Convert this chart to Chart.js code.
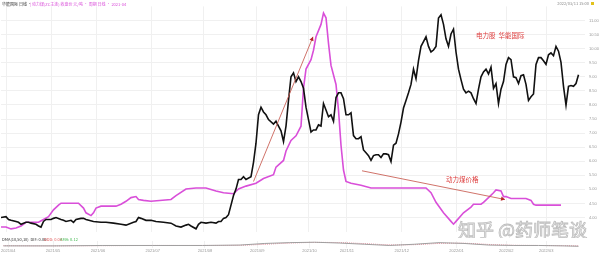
<!DOCTYPE html>
<html>
<head>
<meta charset="utf-8">
<script src="https://cdn.jsdelivr.net/npm/chart.js@4.4.1/dist/chart.umd.min.js"></script>
<style>
  body { margin: 0; background: #fff; width: 600px; height: 254px; overflow: hidden; position: relative; }
  #main { position: absolute; left: 0; top: 0; }
  #sub { position: absolute; left: 0; top: 237px; }
</style>
</head>
<body>
<canvas id="main" width="600" height="238"></canvas>
<canvas id="sub" width="600" height="17"></canvas>
<script>
// trading day index, close price (华能国际)
const stockPoints = [
  [0,4.00],[2,4.03],[3,3.93],[4,3.90],[6,3.86],[7,3.83],[8,3.76],[10,3.83],[11,3.83],[12,3.80],
  [14,3.76],[15,3.70],[16,3.66],[17,3.86],[18,3.93],[20,3.93],[21,3.97],[22,4.00],[24,3.93],[25,3.90],
  [26,3.86],[28,3.90],[29,3.83],[30,3.93],[32,3.97],[33,3.97],[34,3.93],[37,3.86],[40,3.83],[42,3.83],
  [45,3.80],[48,3.76],[50,3.73],[52,3.80],[53,3.83],[54,3.86],[55,4.00],[56,3.97],[58,3.90],[60,3.90],
  [62,3.86],[65,3.83],[68,3.80],[70,3.70],[72,3.66],[74,3.73],[75,3.76],[76,3.70],[78,3.60],[79,3.76],
  [80,3.83],[82,3.80],[84,3.83],[86,3.80],[87,3.86],[88,3.86],[89,3.97],[90,4.00],[91,4.10],[92,4.44],
  [93,4.78],[94,5.01],[95,5.35],[96,5.35],[97,5.45],[98,5.35],[100,5.45],[101,5.96],[102,6.64],[103,7.65],
  [104,7.92],[105,7.75],[106,7.65],[107,7.48],[109,7.32],[110,7.42],[111,7.25],[112,7.08],[113,6.70],[114,7.25],
  [115,8.16],[116,9.00],[117,9.14],[118,8.83],[119,9.00],[120,8.83],[121,8.59],[122,7.92],[123,7.48],[124,7.04],
  [125,7.11],[126,7.11],[127,7.29],[128,7.25],[129,8.05],[130,7.82],[131,7.58],[132,7.65],[133,7.42],[134,8.26],
  [135,8.43],[136,8.43],[137,8.22],[138,7.65],[139,7.65],[140,7.72],[141,6.91],[142,6.80],[143,6.80],[144,6.87],
  [145,6.40],[146,6.30],[147,6.20],[148,6.03],[149,6.20],[150,6.23],[151,6.23],[152,6.13],[153,6.26],[154,6.26],
  [155,6.23],[156,5.99],[157,6.57],[158,6.64],[159,6.97],[160,7.39],[161,7.89],[162,8.16],[163,8.43],[164,8.73],
  [165,9.27],[166,8.93],[167,9.57],[168,10.08],[169,10.25],[170,10.42],[171,10.08],[172,9.88],[173,9.95],[174,10.08],
  [175,11.09],[176,11.20],[177,10.86],[178,10.35],[179,10.08],[180,10.52],[181,10.69],[182,9.88],[183,9.27],[184,8.90],
  [185,8.56],[186,8.43],[187,8.49],[188,8.43],[189,8.22],[190,8.05],[191,8.56],[192,9.00],[193,9.17],[194,9.27],
  [195,9.10],[196,9.34],[197,8.59],[198,8.76],[199,8.05],[200,8.56],[201,8.83],[202,9.44],[203,9.68],[204,9.61],
  [205,9.00],[206,8.97],[207,8.76],[208,9.04],[209,9.07],[210,8.73],[211,8.16],[212,8.29],[213,8.39],[214,9.44],
  [215,9.68],[216,9.68],[217,9.57],[218,9.44],[219,9.78],[220,9.85],[221,9.75],[222,10.08],[223,9.91],[224,9.51],
  [225,8.66],[226,7.99],[227,8.66],[228,8.69],[229,8.66],[230,8.76],[231,9.07]
];

// trading day index, thermal coal price (动力煤, 元/吨)
const coalPoints = [
  [0,541],[2,541],[4,524],[6,532],[8,549],[10,583],[13,583],[15,583],[17,608],[19,633],
  [21,693],[23,735],[24,752],[26,752],[31,752],[33,709],[34,667],[36,642],[37,667],[38,709],
  [40,726],[42,726],[46,726],[48,743],[50,769],[52,802],[54,811],[55,785],[57,777],[60,769],
  [68,785],[70,819],[74,878],[78,887],[82,887],[86,861],[89,845],[93,836],[95,878],[98,904],
  [102,929],[105,971],[109,1005],[110,1073],[113,1132],[114,1216],[116,1309],[118,1351],[120,1436],[121,1774],
  [122,1943],[124,2027],[125,2111],[126,2230],[128,2340],[129,2441],[130,2399],[131,2171],[132,1976],[134,1807],
  [135,1579],[136,1267],[137,1047],[138,946],[140,929],[144,912],[148,887],[154,887],[170,887],[172,845],
  [174,760],[177,667],[180,591],[181,566],[182,591],[185,667],[188,718],[189,743],[192,743],[193,760],
  [195,802],[197,845],[198,870],[200,861],[201,811],[202,811],[204,794],[210,794],[212,777],[213,743],
  [214,735],[224,735]
];

// DMA indicator (sub panel)
const dmaDays = [0,20,40,60,80,95,105,115,125,135,145,155,165,175,185,195,205,215,225,231];
const dmaDif  = [0.0,0.0,0.1,0.1,0.1,0.2,0.6,0.8,0.9,0.7,0.4,0.1,0.4,0.8,0.6,0.2,0.1,0.1,0.0,-0.1];
const dmaAma  = [0.05,0.0,0.05,0.1,0.1,0.15,0.4,0.7,0.85,0.8,0.55,0.25,0.3,0.6,0.65,0.35,0.15,0.1,0.05,0.0];

// month ticks on the time axis
const monthTickDays = [2,20,38,60,81,102,123,138,160,182,202,218];
const monthLabels = ['2021/04','2021/05','2021/06','2021/07','2021/08','2021/09','2021/10','2021/11','2021/12','2022/01','2022/02','2022/03'];

const cjk = '"Noto Sans CJK SC", "Noto Sans", sans-serif';
const gridColor = '#f0f0f0';
const dayMax = 233.6;

// annotation anchors in data coords (day, price)
const riseArrow = [[101, 5.28], [124.8, 10.42]];
const fallArrow = [[144.4, 5.66], [201.6, 4.64]];
const stockNote = { day: 190, price: 10.48, text: '电力股  华能国际' };
const coalNote = { day: 178, price: 5.36, text: '动力煤价格' };

function drawArrow(ctx, x1, y1, x2, y2) {
  ctx.save();
  ctx.strokeStyle = 'rgba(200,90,80,0.85)';
  ctx.lineWidth = 1;
  ctx.beginPath();
  ctx.moveTo(x1, y1);
  ctx.lineTo(x2, y2);
  ctx.stroke();
  const ang = Math.atan2(y2 - y1, x2 - x1);
  const len = 4.5;
  ctx.fillStyle = '#b8232a';
  ctx.beginPath();
  ctx.moveTo(x2, y2);
  ctx.lineTo(x2 - len * Math.cos(ang - 0.5), y2 - len * Math.sin(ang - 0.5));
  ctx.lineTo(x2 - len * Math.cos(ang + 0.5), y2 - len * Math.sin(ang + 0.5));
  ctx.closePath();
  ctx.fill();
  ctx.restore();
}

const overlay = {
  id: 'overlay',
  afterDatasetsDraw(chart) {
    const { ctx, scales: { x, y } } = chart;
    const px = d => x.getPixelForValue(d);
    const py = v => y.getPixelForValue(v);

    drawArrow(ctx, px(riseArrow[0][0]), py(riseArrow[0][1]), px(riseArrow[1][0]), py(riseArrow[1][1]));
    drawArrow(ctx, px(fallArrow[0][0]), py(fallArrow[0][1]), px(fallArrow[1][0]), py(fallArrow[1][1]));

    ctx.save();
    ctx.fillStyle = '#dd3b3b';
    ctx.font = '6.5px ' + cjk;
    ctx.textBaseline = 'middle';
    ctx.fillText(stockNote.text, px(stockNote.day), py(stockNote.price));
    ctx.fillText(coalNote.text, px(coalNote.day), py(coalNote.price));

    // header texts
    ctx.font = '4px ' + cjk;
    ctx.fillStyle = '#333';
    ctx.fillText('华能国际 日线 ·', 2, 4.5);
    ctx.fillStyle = '#d94fd9';
    ctx.fillText('| 动力煤(ZC主连) 收盘价 元/吨 · 周期 日线 · 2021-04', 30, 4.5);
    ctx.fillStyle = '#888';
    ctx.textAlign = 'right';
    ctx.fillText('2022/03/11 15:00', 589, 3.5);
    ctx.fillStyle = '#e2c21c';
    ctx.fillRect(591, 2, 3, 3);

    // watermark
    ctx.textAlign = 'left';
    ctx.textBaseline = 'alphabetic';
    ctx.font = '18px ' + cjk;
    ctx.lineWidth = 0.8;
    ctx.strokeStyle = 'rgba(170,170,170,0.75)';
    ctx.fillStyle = 'rgba(238,238,238,0.85)';
    ctx.fillText('知乎 @药师笔谈', 458, 237);
    ctx.strokeText('知乎 @药师笔谈', 458, 237);
    ctx.restore();
  }
};

new Chart(document.getElementById('main'), {
  type: 'line',
  data: {
    datasets: [
      {
        label: '华能国际',
        data: stockPoints.map(p => ({ x: p[0], y: p[1] })),
        borderColor: '#111',
        borderWidth: 1.6,
        pointRadius: 0,
        yAxisID: 'y'
      },
      {
        label: '动力煤',
        data: coalPoints.map(p => ({ x: p[0], y: p[1] })),
        borderColor: '#d94fd9',
        borderWidth: 1.6,
        pointRadius: 0,
        yAxisID: 'y2'
      }
    ]
  },
  options: {
    responsive: false,
    animation: false,
    devicePixelRatio: 1,
    layout: { padding: { left: 1, top: 1, right: 0, bottom: 0 } },
    plugins: { legend: { display: false }, tooltip: { enabled: false } },
    scales: {
      x: {
        type: 'linear', min: 0, max: dayMax,
        afterBuildTicks: s => { s.ticks = monthTickDays.map(v => ({ value: v })); },
        ticks: { display: false },
        grid: { color: gridColor, drawTicks: false },
        border: { display: false }
      },
      y: {
        position: 'right', min: 3.5, max: 11.5,
        afterBuildTicks: s => { s.ticks = s.ticks.filter(t => t.value > 3.6 && t.value < 11.4); },
        afterFit: s => { s.width = 15; },
        ticks: { stepSize: 0.5, font: { size: 4 }, color: '#999', padding: 4, callback: v => v.toFixed(2) },
        grid: { color: gridColor, drawTicks: false },
        border: { display: false }
      },
      y2: { display: false, min: 500, max: 2500 }
    }
  },
  plugins: [overlay]
});

const subLabel = {
  id: 'subLabel',
  afterDatasetsDraw(chart) {
    const { ctx } = chart;
    ctx.save();
    ctx.font = '4px ' + cjk;
    ctx.textBaseline = 'middle';
    ctx.fillStyle = '#333';
    ctx.fillText('DMA(10,50,10)  DIF: 0.06', 2, 2.5);
    ctx.fillStyle = '#e05a5a';
    ctx.fillText('DDD: 0.04', 44, 2.5);
    ctx.fillStyle = '#3bb54a';
    ctx.fillText('AMA: 0.12', 60, 2.5);
    ctx.restore();
  }
};

new Chart(document.getElementById('sub'), {
  type: 'line',
  data: {
    datasets: [
      {
        data: dmaDays.map((d, i) => ({ x: d, y: dmaDif[i] })),
        borderColor: '#a0a0a0', borderWidth: 1, pointRadius: 0
      },
      {
        data: dmaDays.map((d, i) => ({ x: d, y: dmaAma[i] })),
        borderColor: '#e58a9a', borderWidth: 1, borderDash: [1, 1], pointRadius: 0, tension: 0.3
      }
    ]
  },
  options: {
    responsive: false,
    animation: false,
    devicePixelRatio: 1,
    layout: { padding: { left: 1, top: 4, right: 0, bottom: 0 } },
    plugins: { legend: { display: false }, tooltip: { enabled: false } },
    scales: {
      x: {
        type: 'linear', min: 0, max: dayMax,
        afterBuildTicks: s => { s.ticks = monthTickDays.map(v => ({ value: v })); },
        ticks: {
          font: { size: 4 }, color: '#999', padding: 1, maxRotation: 0, autoSkip: false,
          callback: v => monthLabels[monthTickDays.indexOf(v)]
        },
        grid: { color: gridColor, drawTicks: false },
        border: { display: false }
      },
      y: {
        position: 'right', min: -0.4, max: 1.2,
        afterFit: s => { s.width = 15; },
        ticks: { display: false },
        grid: { display: false },
        border: { display: false }
      }
    }
  },
  plugins: [subLabel]
});
</script>
</body>
</html>
